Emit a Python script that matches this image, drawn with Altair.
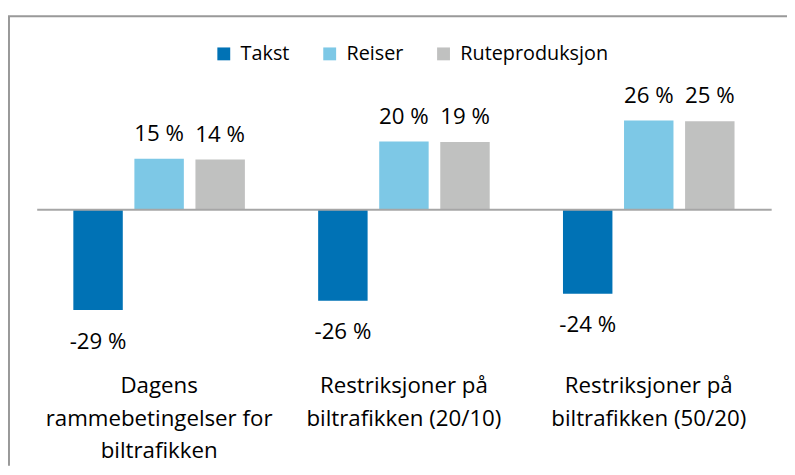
import altair as alt
import pandas as pd

categories = [
    "Dagens\nrammebetingelser for\nbiltrafikken",
    "Restriksjoner på\nbiltrafikken (20/10)",
    "Restriksjoner på\nbiltrafikken (50/20)",
]
series = ["Takst", "Reiser", "Ruteproduksjon"]
takst = [-29.1, -26.4, -24.4]
reiser = [14.6, 19.6, 25.6]
ruteproduksjon = [14.4, 19.4, 25.4]
colors = ["#0072B5", "#7DC8E6", "#C0C1C0"]

rows = []
for i, c in enumerate(categories):
    for s, vals in zip(series, [takst, reiser, ruteproduksjon]):
        rows.append({"kategori": c, "serie": s, "verdi": vals[i]})
df = pd.DataFrame(rows)

FONT = "Open Sans"
W, H = 786, 454

x = alt.X(
    "kategori:N",
    sort=categories,
    scale=alt.Scale(paddingInner=0, paddingOuter=0, range=[28, 770]),
    axis=alt.Axis(
        title=None, labelAngle=0, ticks=False, zindex=1,
        domain=True, domainColor="#A6A6A6", domainWidth=2,
        offset=-259,
        labelFontSize=22.5, labelLineHeight=33, labelPadding=185,
        labelBaseline="alphabetic",
        labelColor="#000", labelFont=FONT, labelLimit=0,
        labelExpr="split(datum.label, '\\n')",
    ),
)
xoff = alt.XOffset("serie:N", sort=series, scale=alt.Scale(paddingInner=0.19, paddingOuter=0.6))
y = alt.Y("verdi:Q", scale=alt.Scale(domain=[-45, 55], range=[352.5, 2.5], nice=False, zero=False), axis=None)
color = alt.Color(
    "serie:N", sort=series,
    scale=alt.Scale(domain=series, range=colors),
    legend=alt.Legend(
        title=None, orient="none", legendX=207, legendY=28, direction="horizontal",
        symbolType="square", symbolSize=169, symbolStrokeWidth=0, symbolOpacity=1,
        labelFont=FONT, labelFontSize=20, labelColor="#000", labelOffset=7,
        columnPadding=30, padding=0,
    ),
)

bars = alt.Chart(df).mark_bar().encode(x=x, xOffset=xoff, y=y, color=color)

lab_base = alt.Chart(df).transform_calculate(etikett="round(datum.verdi) + ' %'")
pos = lab_base.transform_filter("datum.verdi > 0").mark_text(
    dy=-18, baseline="alphabetic", fontSize=22.5, font=FONT, color="#000"
).encode(x=x, xOffset=xoff, y=y, text="etikett:N")
neg = lab_base.transform_filter("datum.verdi < 0").mark_text(
    dy=39, baseline="alphabetic", fontSize=22.5, font=FONT, color="#000"
).encode(x=x, xOffset=xoff, y=y, text="etikett:N")

chart = alt.layer(bars, pos, neg).properties(
    width=W, height=H,
    autosize=alt.AutoSizeParams(type="none"),
    padding={"left": 1, "top": 6, "right": 0, "bottom": 0},
).configure_view(
    stroke="#999999", strokeWidth=2, strokeDash=[W, W + H, H]
)

chart.save("out.html", embed_options={"renderer": "svg", "actions": False})
